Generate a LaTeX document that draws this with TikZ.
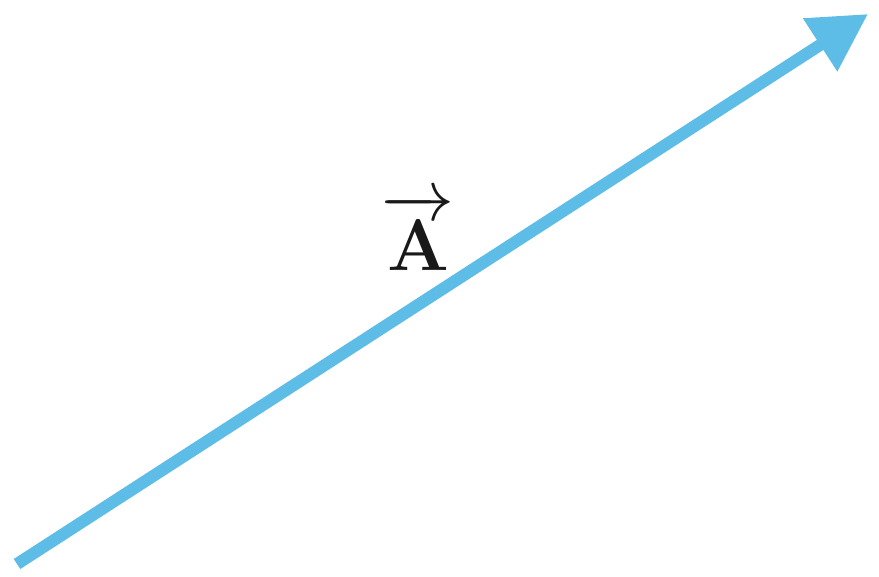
\documentclass[tikz,border=0pt]{standalone}
\usepackage{xcolor}
\usepackage{amsmath}
\usepackage{tikz}
\usetikzlibrary{arrows.meta, positioning, calc}
\definecolor{vecblue}{RGB}{94,189,230}

\begin{document}
\begin{tikzpicture}[
    vecline/.style={-{Triangle[length=5.7mm, width=6mm]}, line width=0.12cm, draw=vecblue, fill=vecblue},
    veclabel/.style={font=\fontsize{20}{24}\selectfont, text=black!90, inner sep=0pt}
]
    \useasboundingbox (0,0) rectangle (8.79,5.76);
    \coordinate (tail) at (0.17,0.12);
    \coordinate (head) at (8.68,5.62);
    \node[veclabel] (lbl) at (4.18,3.44) {$\overrightarrow{\mathbf{A}}$};

    \draw[vecline] (tail) -- (head);
\end{tikzpicture}
\end{document}
